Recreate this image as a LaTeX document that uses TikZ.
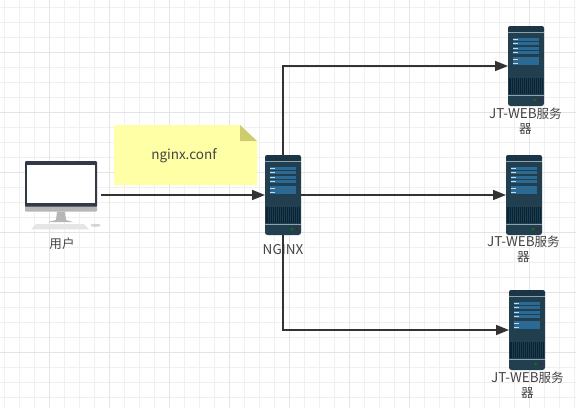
\documentclass[tikz,border=0pt]{standalone}
\usepackage{fontspec}
\setmainfont{Noto Sans CJK SC}
\newfontfamily\cjk{Noto Sans CJK SC}[Scale=0.93]
\usetikzlibrary{arrows.meta}

\definecolor{gridminor}{HTML}{F0F0F0}
\definecolor{gridmajor}{HTML}{E4E4E4}
\definecolor{inktext}{HTML}{444444}
\definecolor{inkline}{HTML}{333333}
\definecolor{notefill}{HTML}{FFFFA6}
\definecolor{notefold}{HTML}{CDCD70}
\definecolor{srvbody}{HTML}{223F4F}
\definecolor{srvtop}{HTML}{1B3546}
\definecolor{srvpanel}{HTML}{2A6A94}
\definecolor{srvgrille}{HTML}{0D2231}
\definecolor{srvrib}{HTML}{1A3D52}
\definecolor{srvband}{HTML}{8CA3AE}
\definecolor{pcframe}{HTML}{333A47}
\definecolor{pcgrey}{HTML}{B6B6B6}

\tikzset{
    srvnode/.style={minimum width=36pt, minimum height=80pt, inner sep=0pt, outer sep=0pt},
    lbl/.style={text=inktext, font=\fontsize{13.5}{15.5}\selectfont, align=center, inner sep=0pt},
    conn/.style={draw=inkline, line width=1.7pt, -{Triangle[length=13pt,width=10pt]}},
    pics/server/.style={code={
        % body
        \fill[srvbody, rounded corners=2.5pt] (0,0) rectangle (36,80);
        \fill[srvtop, rounded corners=2.5pt] (0,0) rectangle (36,6);
        \fill[srvband] (0,6) rectangle (36,7.3);
        \fill[srvband] (0,69) rectangle (36,70.3);
        % panels
        \foreach \y in {11.7,21,31.3}{
            \fill[srvpanel] (5,\y) rectangle (31,\y+3.3);
            \fill[srvpanel] (5,\y+4) rectangle (31,\y+7.3);
            \fill[white!75!srvpanel] (5,\y+1.2) rectangle (9.5,\y+2.1);
            \fill[white!75!srvpanel] (5,\y+5.2) rectangle (9.5,\y+6.1);
        }
        % grille
        \fill[srvgrille] (1,51.7) rectangle (35,68);
        \foreach \x in {3,5,...,33}{
            \draw[srvrib, line width=0.6pt] (\x,52) -- (\x,68);
        }
        % lamps
        \fill[green!55!black] (26.7,74) circle (1.2);
        \fill[red!60!black] (31.7,74) circle (1.2);
    }},
}

\begin{document}
\begin{tikzpicture}[x=1pt,y=-1pt]
    \useasboundingbox (0,0) rectangle (576,408);
    \fill[white] (0,0) rectangle (576,408);

    % Draw grid
    \foreach \x in {4,19,...,574}{
        \draw[gridminor, line width=1pt] (\x,0) -- (\x,408);
    }
    \foreach \y in {7,22,...,404}{
        \draw[gridminor, line width=1pt] (0,\y) -- (576,\y);
    }
    \foreach \x in {49,109,...,529}{
        \draw[gridmajor, line width=1pt] (\x,0) -- (\x,408);
    }
    \foreach \y in {52,112,...,352}{
        \draw[gridmajor, line width=1pt] (0,\y) -- (576,\y);
    }

    % Draw note
    \fill[notefill] (114,125) -- (240,125) -- (257,141) -- (257,185) -- (114,185) -- cycle;
    \fill[notefold] (240,125) -- (257,141) -- (240,141) -- cycle;
    \node[lbl] (conf) at (184,155.5) {nginx.conf};

    % Draw user computer
    \fill[pcframe, rounded corners=1pt] (25,161) rectangle (97,207);
    \fill[white] (27,165) rectangle (94.7,203.3);
    \fill[pcgrey, rounded corners=1pt] (25,206.7) rectangle (97,211.7);
    \fill[pcgrey] (57,211.7) -- (65,211.7) -- (66,220) -- (73,222) -- (48,222) -- (56,220) -- cycle;
    \fill[black!10] (36,224) -- (84,224) -- (89,229.3) -- (31,229.3) -- cycle;
    \fill[black!17] (95.5,225.3) ellipse (5.2 and 1.5);
    \node[srvnode, minimum width=72pt, minimum height=69pt] (user) at (61,195) {};
    \node[lbl] (userlbl) at (62,244) {\cjk 用户};

    % Place servers
    \node[srvnode] (nginx) at (283,195) {};
    \node[srvnode] (webtop) at (526,66) {};
    \node[srvnode] (webmid) at (524,195) {};
    \node[srvnode] (webbot) at (527,330) {};
    \pic at (nginx.north west) {server};
    \pic at (webtop.north west) {server};
    \pic at (webmid.north west) {server};
    \pic at (webbot.north west) {server};

    % Server labels
    \node[lbl] (nginxlbl) at (283,250) {NGINX};
    \node[lbl] (toplbl) at (525.5,121) {JT-WEB{\cjk 服务}\\{\cjk 器}};
    \node[lbl] (midlbl) at (523.5,249) {JT-WEB{\cjk 服务}\\{\cjk 器}};
    \node[lbl] (botlbl) at (527.5,385) {JT-WEB{\cjk 服务}\\{\cjk 器}};

    % Draw connectors
    \draw[conn] (user.east) ++(4,0) -- (nginx.west);
    \draw[conn] (nginx.north) |- (webtop.west);
    \draw[conn] (nginx.east) -- (webmid.west);
    \draw[conn] (nginx.south) |- (webbot.west);
\end{tikzpicture}
\end{document}
